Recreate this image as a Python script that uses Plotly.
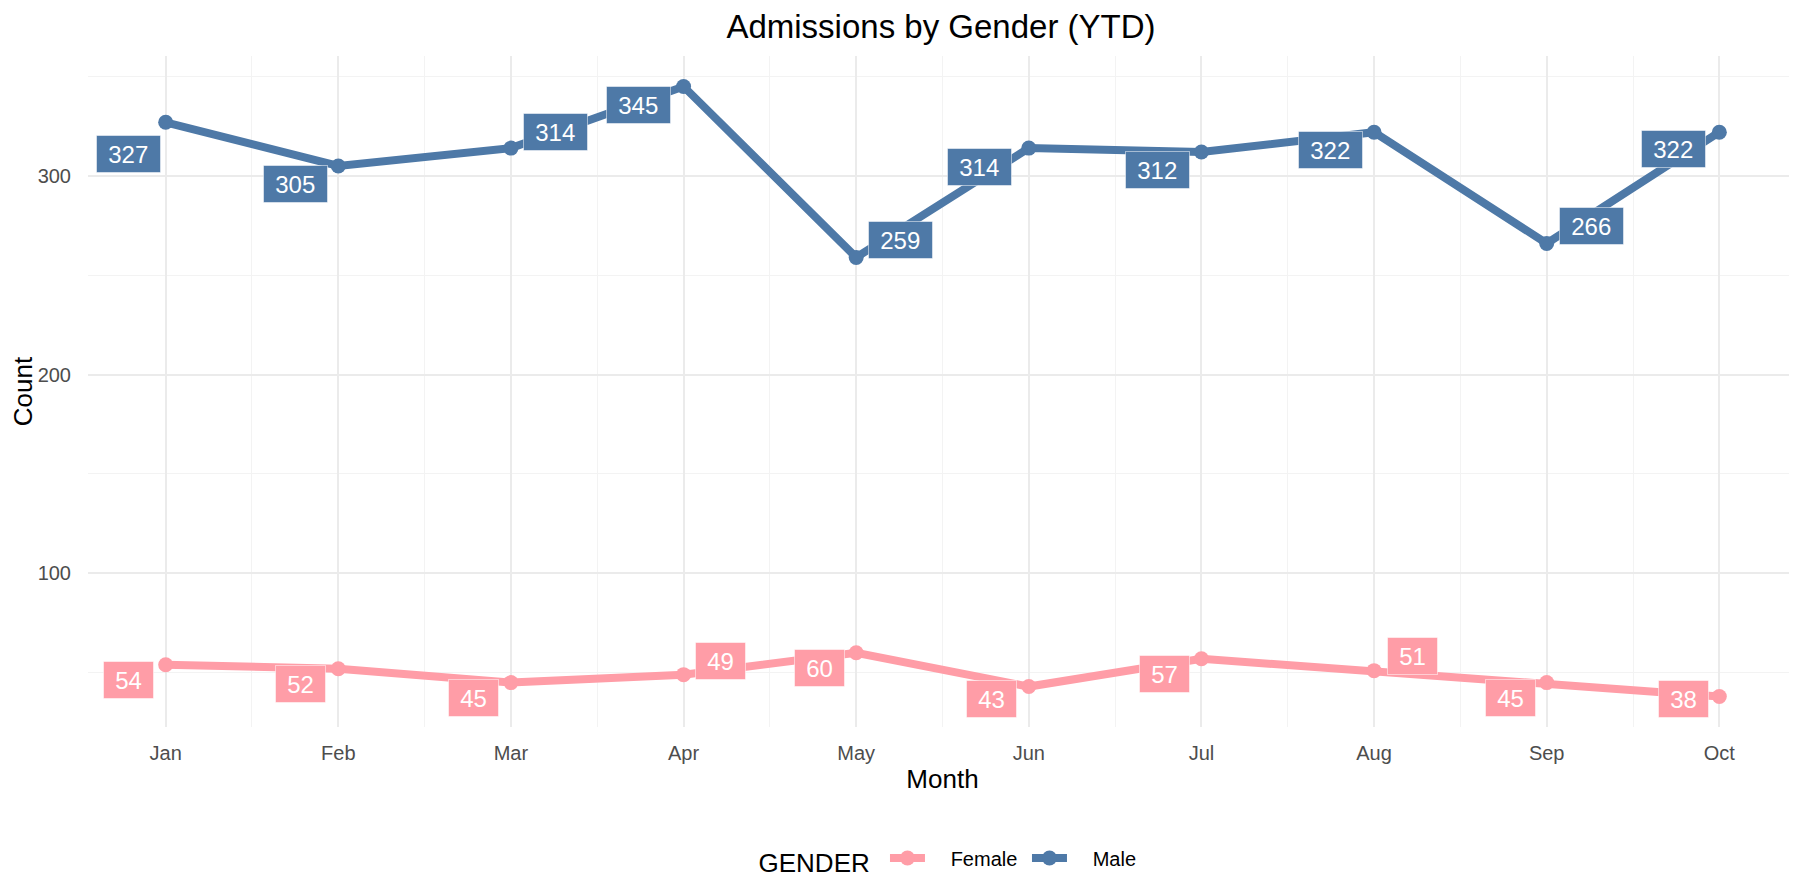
import plotly.graph_objects as go

months = ["Jan", "Feb", "Mar", "Apr", "May", "Jun", "Jul", "Aug", "Sep", "Oct"]
female = [54, 52, 45, 49, 60, 43, 57, 51, 45, 38]
male = [327, 305, 314, 345, 259, 314, 312, 322, 266, 322]

# label offsets (pixels) mimicking the repelled labels
male_off = [(-37, 32), (-43, 18), (45, -16), (-45, 18), (44, -17),
            (-49, 19), (-44, 18), (-44, 18), (45, -17), (-46, 17)]
female_off = [(-37, 15), (-38, 15), (-37, 15), (37, -14), (-37, 15),
              (-37, 12), (-37, 15), (38, -15), (-36, 15), (-36, 2)]

C_F = "#FF9DA7"
C_M = "#4E79A7"
FONT = "Arial, Liberation Sans, sans-serif"

# the page body adds an 8px offset; the figure is sized to compensate
W, H, OFF = 1797 - 8, 881 - 8, 8

x = list(range(1, len(months) + 1))
GAP = "\u00a0\u00a0\u00a0\u2009"

fig = go.Figure()
fig.add_trace(go.Scatter(x=x, y=female, name=GAP + "Female", mode="lines+markers",
                         line=dict(color=C_F, width=8), marker=dict(size=15, color=C_F)))
fig.add_trace(go.Scatter(x=x, y=male, name=GAP + "Male", mode="lines+markers",
                         line=dict(color=C_M, width=8), marker=dict(size=15, color=C_M)))

annos = []
for vals, offs, col in [(male, male_off, C_M), (female, female_off, C_F)]:
    for xi, v, (dx, dy) in zip(x, vals, offs):
        txt = str(v)
        annos.append(dict(x=xi, y=v, xref="x", yref="y", text=txt, showarrow=True,
                          ax=dx, ay=dy, arrowcolor="rgba(0,0,0,0)", arrowwidth=0.1,
                          arrowhead=0, bgcolor=col, bordercolor="rgba(255,255,255,0.5)",
                          borderwidth=1, borderpad=4, width=13.5 * len(txt) + 14, height=28,
                          font=dict(color="white", size=24, family=FONT)))

dmin, dmax = min(female + male), max(female + male)
pad = (dmax - dmin) * 0.05

fig.update_layout(
    width=W, height=H,
    paper_bgcolor="white", plot_bgcolor="white",
    margin=dict(l=88 - OFF, r=0, t=56 - OFF, b=154, autoexpand=False),
    font=dict(family=FONT, color="#4D4D4D"),
    title=dict(text="Admissions by Gender (YTD)", x=(941 - OFF) / W, xanchor="center",
               y=1 - (26 - OFF) / H, yanchor="middle", automargin=False,
               font=dict(size=33, color="black", family=FONT)),
    annotations=annos,
    showlegend=True,
    legend=dict(orientation="h", x=0.512, xanchor="center", y=-0.199, yanchor="middle",
                title=dict(text="GENDER ", font=dict(size=26, color="black", family=FONT)),
                font=dict(size=20, color="black", family=FONT), itemwidth=35, entrywidth=92),
    hovermode=False,
)
fig.update_xaxes(range=[0.55, len(months) + 0.45], tickmode="array", tickvals=x, ticktext=months,
                 showgrid=True, gridcolor="#EBEBEB", gridwidth=1.5, zeroline=False, showline=False,
                 ticks="outside", ticklen=8, tickcolor="rgba(0,0,0,0)", automargin=False,
                 tickfont=dict(size=20, color="#4D4D4D", family=FONT),
                 minor=dict(tick0=1.5, dtick=1, showgrid=True, gridcolor="#F3F3F3", gridwidth=1),
                 title=dict(text="Month", standoff=6, font=dict(size=26, color="black", family=FONT)))
fig.update_yaxes(range=[dmin - pad, dmax + pad], tickmode="array", tickvals=[100, 200, 300],
                 showgrid=True, gridcolor="#EBEBEB", gridwidth=1.5, zeroline=False, showline=False,
                 ticks="outside", ticklen=12, tickcolor="rgba(0,0,0,0)", automargin=False,
                 tickfont=dict(size=20, color="#4D4D4D", family=FONT),
                 minor=dict(tick0=50, dtick=100, showgrid=True, gridcolor="#F3F3F3", gridwidth=1),
                 title=dict(text="Count", standoff=8, font=dict(size=26, color="black", family=FONT)))

fig.write_html("out.html")
